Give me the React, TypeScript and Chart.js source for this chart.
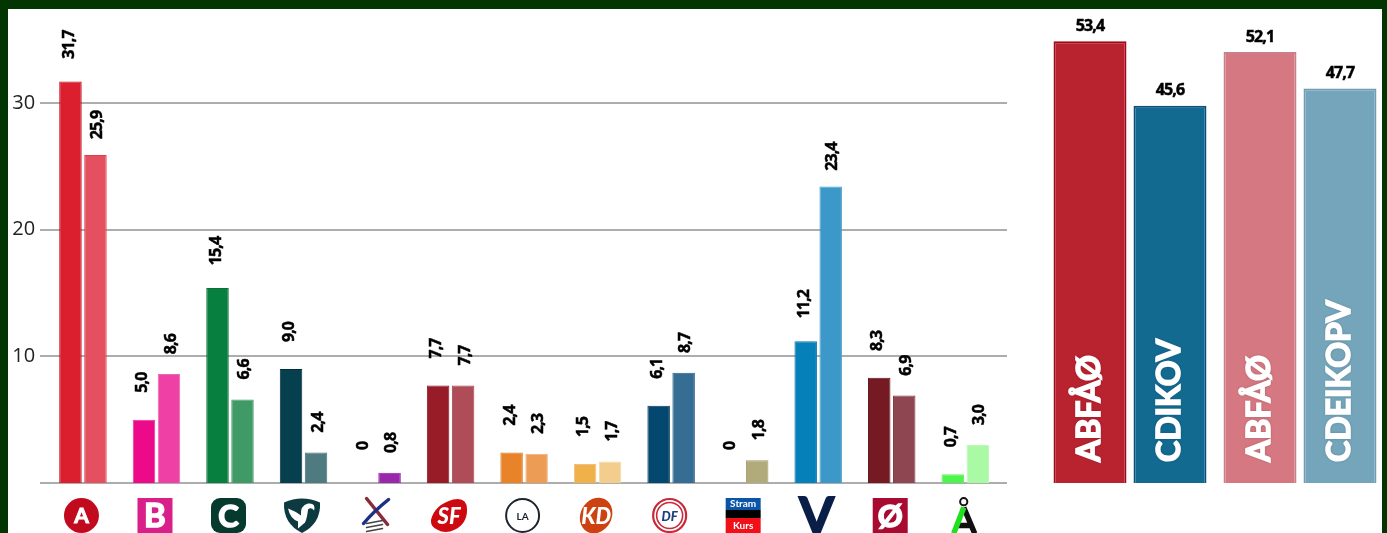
import React, { useEffect, useRef } from "react";
import { Chart, registerables } from "chart.js";

Chart.register(...registerables);

const parties = ["A", "B", "C", "K", "X", "SF", "LA", "KD", "DF", "SK", "V", "Ø", "Å"];
const firstValues = [31.7, 5.0, 15.4, 9.0, 0, 7.7, 2.4, 1.5, 6.1, 0, 11.2, 8.3, 0.7];
const secondValues = [25.9, 8.6, 6.6, 2.4, 0.8, 7.7, 2.3, 1.7, 8.7, 1.8, 23.4, 6.9, 3.0];
const firstFill = ["#dc1f2e", "#ec0a8a", "#067f3f", "#06404e", "#8a2a9a", "#981b28", "#e8832a", "#f0b04a", "#04476f", "#888", "#0680b9", "#751a22", "#4cf44c"];
const secondFill = ["#e55060", "#ee40a5", "#3f9a65", "#4f7a80", "#9a28ab", "#ae4d57", "#ec9c55", "#f3cd8e", "#356e92", "#b1ab7c", "#3c98c8", "#8e4750", "#a9f9a5"];
const firstEdge = ["#b80c1c", "#e0389a", "#0a7038", "#032f3a", "#8a2a9a", "#851420", "#e07a20", "#f0c080", "#033a5c", "#888", "#0a72a8", "#621218", "#6cf06c"];
const secondEdge = ["#d84050", "#e86ab0", "#4a9a6c", "#437076", "#8c1f9e", "#a04048", "#f0b080", "#f5d9a8", "#2a6285", "#a09a68", "#4a9fcc", "#7f3a42", "#c0f8bc"];

const yTicks = [0, 10, 20, 30];

const blocLeftNames = ["ABFÅØ", "ABFÅØ"];
const blocRightNames = ["CDIKOV", "CDEIKOPV"];
const blocLeftValues = [53.4, 52.1];
const blocRightValues = [45.6, 47.7];
const blocLeftFill = ["#b9222f", "#d57882"];
const blocRightFill = ["#126a91", "#74a5bb"];
const blocLeftEdge = ["#a00a18", "#c9808a"];
const blocRightEdge = ["#07527a", "#6f9cb2"];
const blocCategories = ["2015", "2019"];

const fmt = (v: number) => (v === 0 ? "0" : v.toFixed(1).replace(".", ","));
const SANS = '"Open Sans"';

function drawLogo(c: CanvasRenderingContext2D, name: string, x: number, y: number) {
  c.save();
  c.translate(x, y);
  const rr = (l: number, t: number, w: number, h: number, r: number, f: string) => {
    c.fillStyle = f;
    c.beginPath();
    c.roundRect(l, t, w, h, r);
    c.fill();
  };
  const txt = (s: string, font: string, f: string, dx = 0, dy = 1, heavy = 0) => {
    c.font = font;
    c.fillStyle = f;
    c.textAlign = "center";
    c.textBaseline = "middle";
    c.fillText(s, dx, dy);
    if (heavy) {
      c.strokeStyle = f;
      c.lineWidth = heavy;
      c.strokeText(s, dx, dy);
    }
  };
  switch (name) {
    case "A":
      c.fillStyle = "#c20a1e";
      c.beginPath();
      c.arc(0, 0, 17.5, 0, Math.PI * 2);
      c.fill();
      txt("A", "bold 21px Lato", "#fff", 0, 1, 1);
      break;
    case "B":
      rr(-17.5, -17.5, 35, 35, 0, "#d9208a");
      txt("B", "bold 33px Lato", "#fff", 0, 1, 1.5);
      break;
    case "C":
      rr(-17.5, -17.5, 35, 35, 9, "#063a2f");
      txt("C", "bold 31px Lato", "#fff", 0, 1, 1.5);
      break;
    case "K":
      c.fillStyle = "#0d3a40";
      c.beginPath();
      c.moveTo(-18, -13);
      c.quadraticCurveTo(0, -21, 18, -13);
      c.quadraticCurveTo(19, 8, 0, 17.5);
      c.quadraticCurveTo(-19, 8, -18, -13);
      c.fill();
      c.fillStyle = "#fff";
      c.beginPath();
      c.moveTo(-14, -7);
      c.quadraticCurveTo(-6, -4, -1, 0);
      c.quadraticCurveTo(-2, -10, 6, -12);
      c.quadraticCurveTo(14, -13, 12, -5);
      c.quadraticCurveTo(9, -9, 6, -6);
      c.quadraticCurveTo(5, 3, 3, 7);
      c.lineTo(-4, 13);
      c.lineTo(-4, 6);
      c.quadraticCurveTo(-12, 3, -14, -7);
      c.fill();
      break;
    case "X":
      c.lineCap = "round";
      c.lineWidth = 3.5;
      c.strokeStyle = "#8a2a3a";
      c.beginPath();
      c.moveTo(-9, -17);
      c.lineTo(12, 9);
      c.stroke();
      c.strokeStyle = "#1c2f86";
      c.beginPath();
      c.moveTo(13, -16);
      c.quadraticCurveTo(-2, -4, -12, 8);
      c.stroke();
      c.lineWidth = 1.4;
      c.strokeStyle = "#444";
      for (const d of [6, 10, 14]) {
        c.beginPath();
        c.moveTo(-9, d + 2);
        c.lineTo(7, d - 1);
        c.stroke();
      }
      break;
    case "SF":
      c.fillStyle = "#cc0a10";
      c.beginPath();
      c.moveTo(-18, 4);
      c.quadraticCurveTo(-14, -11, 4, -16);
      c.quadraticCurveTo(18, -19, 18, -6);
      c.quadraticCurveTo(18, 8, 6, 14);
      c.quadraticCurveTo(-4, 19, -12, 14);
      c.quadraticCurveTo(-19, 11, -18, 4);
      c.fill();
      txt("SF", "italic 900 22px Lato", "#fff");
      break;
    case "LA":
      c.fillStyle = "#fff";
      c.strokeStyle = "#1c2430";
      c.lineWidth = 2;
      c.beginPath();
      c.arc(0, 0, 16.5, 0, Math.PI * 2);
      c.fill();
      c.stroke();
      txt("LA", "bold 10px Lato", "#1c2430");
      break;
    case "KD":
      c.fillStyle = "#cc4210";
      c.beginPath();
      c.ellipse(0, 0, 15.5, 18.5, 0.5, 0, Math.PI * 2);
      c.fill();
      txt("KD", "italic 900 22px Lato", "#fff");
      break;
    case "DF":
      c.strokeStyle = "#c82a38";
      for (const [r, w] of [[16.5, 2.2], [13, 1.6]]) {
        c.lineWidth = w;
        c.beginPath();
        c.arc(0, 0, r, 0, Math.PI * 2);
        c.stroke();
      }
      txt("DF", "italic 900 13px Lato", "#1d3f7c");
      break;
    case "SK":
      rr(-17.5, -17.5, 35, 12, 0, "#0a55a5");
      rr(-17.5, -5.5, 35, 8, 0, "#000");
      rr(-17.5, 2.5, 35, 15, 0, "#f0101a");
      txt("Stram", "bold 10px Lato", "#fff", 0, -11.5);
      txt("Kurs", "bold 10px Lato", "#fff", 0, 10);
      break;
    case "V":
      txt("V", "bold 50px Lato", "#0a1f48", 0, 1, 2);
      break;
    case "Ø":
      rr(-17.5, -17.5, 35, 35, 0, "#a90a30");
      txt("Ø", "bold 31px Lato", "#fff", 0, 1, 1.5);
      break;
    case "Å":
      c.lineWidth = 2;
      c.strokeStyle = "#111";
      c.beginPath();
      c.arc(0, -13.8, 3.6, 0, Math.PI * 2);
      c.stroke();
      c.lineWidth = 5.5;
      c.beginPath();
      c.moveTo(0, -8);
      c.lineTo(11, 18);
      c.moveTo(-6, 10);
      c.lineTo(7, 10);
      c.stroke();
      c.strokeStyle = "#20e020";
      c.beginPath();
      c.moveTo(0, -8);
      c.lineTo(-10, 18);
      c.stroke();
      break;
  }
  c.restore();
}

const valueFont = (c: CanvasRenderingContext2D) => {
  c.font = `bold 16px ${SANS}`;
  (c as any).letterSpacing = "-0.9px";
  c.fillStyle = "#000";
  c.strokeStyle = "#000";
  c.lineWidth = 0.5;
  c.textAlign = "center";
  c.textBaseline = "middle";
};

const leftPlugin = {
  id: "leftDecor",
  beforeDatasetsDraw(ch: any) {
    const c = ch.ctx as CanvasRenderingContext2D;
    const y = ch.scales.y;
    c.save();
    c.strokeStyle = "#adadad";
    c.lineWidth = 2;
    for (const t of yTicks) {
      const py = Math.round(y.getPixelForValue(t));
      c.beginPath();
      c.moveTo(40, py);
      c.lineTo(1007, py);
      c.stroke();
    }
    c.restore();
  },
  afterDatasetsDraw(ch: any) {
    const c = ch.ctx as CanvasRenderingContext2D;
    const xs = ch.scales.x;
    ch.data.datasets.forEach((ds: any, di: number) => {
      const meta = ch.getDatasetMeta(di);
      const lift = di === 0 ? 37 : 30;
      const dx = di === 0 ? -1.5 : 2;
      meta.data.forEach((el: any, i: number) => {
        c.save();
        valueFont(c);
        c.translate(el.x + dx, el.y - lift);
        c.rotate(-Math.PI / 2);
        const s = fmt(ds.data[i]);
        c.fillText(s, 0, 0);
        c.strokeText(s, 0, 0);
        c.restore();
      });
    });
    parties.forEach((p, i) => drawLogo(c, p, xs.getPixelForValue(i) - 1.5, 515.5));
  },
};

const rightPlugin = {
  id: "rightDecor",
  afterDatasetsDraw(ch: any) {
    const c = ch.ctx as CanvasRenderingContext2D;
    ch.data.datasets.forEach((ds: any, di: number) => {
      const names = di === 0 ? blocLeftNames : blocRightNames;
      ch.getDatasetMeta(di).data.forEach((el: any, i: number) => {
        c.save();
        valueFont(c);
        const s = fmt(ds.data[i]);
        c.fillText(s, el.x, el.y - 15);
        c.strokeText(s, el.x, el.y - 15);
        c.translate(el.x, 462);
        c.rotate(-Math.PI / 2);
        c.font = "bold 32px Lato";
        (c as any).letterSpacing = "0px";
        c.textAlign = "left";
        c.fillStyle = "#fff";
        c.strokeStyle = "#fff";
        c.lineWidth = 1.6;
        c.shadowColor = "rgba(0,0,0,0.35)";
        c.shadowBlur = 3;
        c.fillText(names[i], 0, 0);
        c.shadowBlur = 0;
        c.strokeText(names[i], 0, 0);
        c.restore();
      });
    });
  },
};

export default function App() {
  const leftRef = useRef<HTMLCanvasElement>(null);
  const rightRef = useRef<HTMLCanvasElement>(null);

  useEffect(() => {
    const left = new Chart(leftRef.current!, {
      type: "bar",
      data: {
        labels: parties,
        datasets: [
          { data: firstValues, backgroundColor: firstFill, borderColor: firstEdge, borderWidth: 1, categoryPercentage: 0.68, barPercentage: 0.9 },
          { data: secondValues, backgroundColor: secondFill, borderColor: secondEdge, borderWidth: 1, categoryPercentage: 0.68, barPercentage: 0.9 },
        ],
      },
      options: {
        animation: false,
        responsive: false,
        layout: { padding: { top: 27, bottom: 50, left: 0, right: 38 } },
        plugins: { legend: { display: false }, tooltip: { enabled: false } },
        scales: {
          x: { display: false },
          y: {
            min: 0,
            max: 36,
            afterFit: (s: any) => { s.width = 46.2; },
            afterBuildTicks: (s: any) => { s.ticks = yTicks.map((value) => ({ value })); },
            border: { display: false },
            grid: { display: false, drawTicks: false },
            ticks: {
              padding: 11,
              color: "#222",
              font: { family: SANS, size: 20 },
              callback: (v: any) => (v === 0 ? "" : String(v)),
            },
          },
        },
      },
      plugins: [leftPlugin],
    } as any);

    const right = new Chart(rightRef.current!, {
      type: "bar",
      data: {
        labels: blocCategories,
        datasets: [
          { data: blocLeftValues, backgroundColor: blocLeftFill, borderColor: blocLeftEdge, borderWidth: 2, categoryPercentage: 0.941, barPercentage: 0.9125 },
          { data: blocRightValues, backgroundColor: blocRightFill, borderColor: blocRightEdge, borderWidth: 2, categoryPercentage: 0.941, barPercentage: 0.9125 },
        ],
      },
      options: {
        animation: false,
        responsive: false,
        layout: { padding: { top: 28, bottom: 50, left: 5, right: 2 } },
        plugins: { legend: { display: false }, tooltip: { enabled: false } },
        scales: {
          x: { display: false },
          y: { display: false, min: 0, max: 55 },
        },
      },
      plugins: [rightPlugin],
    } as any);

    return () => {
      left.destroy();
      right.destroy();
    };
  }, []);

  return (
    <div style={{ position: "fixed", left: 0, top: 0, width: 1387, height: 533, background: "#023502", overflow: "hidden" }}>
      <div style={{ position: "absolute", left: 8, top: 9, width: 1374, height: 524, background: "#fff" }} />
      <canvas ref={leftRef} width={1040} height={533} style={{ position: "absolute", left: 0, top: 0, width: 1040, height: 533, filter: "blur(0.4px)" }} />
      <canvas ref={rightRef} width={347} height={533} style={{ position: "absolute", left: 1040, top: 0, width: 347, height: 533, filter: "blur(0.4px)" }} />
    </div>
  );
}
